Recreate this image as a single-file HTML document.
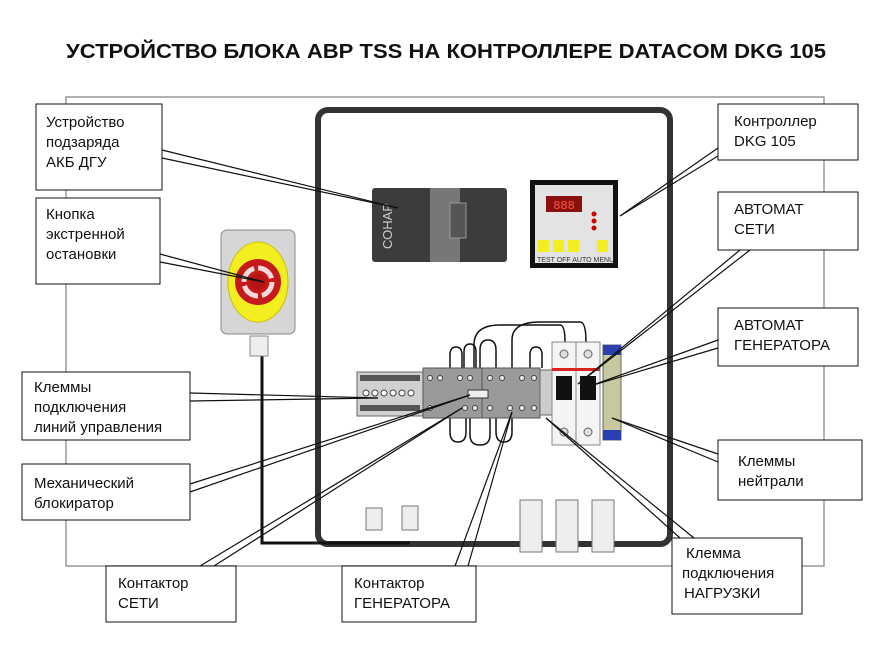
<!DOCTYPE html>
<html><head><meta charset="utf-8"><style>
body{margin:0;background:#fff;}
svg{display:block;font-family:"Liberation Sans",sans-serif;}
</style></head><body>
<svg width="890" height="652" viewBox="0 0 890 652" xmlns="http://www.w3.org/2000/svg">
<rect width="890" height="652" fill="#fff"/>
<text x="66" y="58" font-size="20" font-weight="bold" fill="#111" textLength="760" lengthAdjust="spacingAndGlyphs">УСТРОЙСТВО БЛОКА АВР TSS НА КОНТРОЛЛЕРЕ DATACOM DKG 105</text>
<!-- panel -->
<rect x="66" y="97" width="758" height="469" fill="none" stroke="#999" stroke-width="1.5"/>
<rect x="318" y="110" width="352" height="434" rx="10" fill="none" stroke="#333" stroke-width="6"/>
<!-- emergency wire -->
<path d="M262 355 V543 H410" fill="none" stroke="#111" stroke-width="3"/>
<!-- e-stop -->
<rect x="221" y="230" width="74" height="104" rx="6" fill="#d6d6d6" stroke="#888"/>
<ellipse cx="258" cy="282" rx="30" ry="40" fill="#f2ee20" stroke="#c9c000"/>
<circle cx="258" cy="282" r="23" fill="#c61a1a"/>
<circle cx="258" cy="282" r="14" fill="none" stroke="#f4dada" stroke-width="5" stroke-dasharray="18 4"/>
<circle cx="258" cy="282" r="8" fill="#b51414"/>
<rect x="250" y="336" width="18" height="20" fill="#eee" stroke="#888"/>
<!-- charger -->
<rect x="372" y="188" width="135" height="74" rx="3" fill="#3c3c3c"/>
<rect x="430" y="188" width="30" height="74" fill="#777"/>
<rect x="450" y="203" width="16" height="35" fill="#555" stroke="#999"/>
<text x="392" y="226" font-size="13" fill="#ccc" transform="rotate(-90 392 226)" text-anchor="middle">СОНАР</text>
<!-- controller -->
<rect x="530" y="180" width="88" height="88" fill="#111"/>
<rect x="535" y="185" width="78" height="78" fill="#e3e3e3"/>
<rect x="546" y="196" width="36" height="16" fill="#8a1010"/>
<text x="564" y="209" font-size="12" fill="#ff5a3a" text-anchor="middle" font-family="Liberation Mono,monospace">888</text>
<rect x="538" y="240" width="11" height="12" fill="#f2ee20"/><rect x="553" y="240" width="11" height="12" fill="#f2ee20"/><rect x="568" y="240" width="11" height="12" fill="#f2ee20"/><rect x="597" y="240" width="11" height="12" fill="#f2ee20"/>
<text x="537" y="262" font-size="7" fill="#333">TEST OFF AUTO   MENU</text>
<circle cx="594" cy="214" r="2.5" fill="#c00"/><circle cx="594" cy="221" r="2.5" fill="#c00"/><circle cx="594" cy="228" r="2.5" fill="#c00"/>
<!-- wires loops -->
<g fill="none" stroke="#111" stroke-width="1.5">
<path d="M450 370 V355 Q450 347 456 347 Q462 347 462 355 V370"/>
<path d="M464 370 V352 Q464 344 470 344 Q476 344 476 352 V370"/>
<path d="M480 370 V350 Q480 340 488 340 Q496 340 496 350 V370"/>
<path d="M474 368 V345 Q474 325 500 325 H560 Q565 325 565 342"/>
<path d="M512 368 V340 Q512 322 540 322 H580 Q586 322 586 342"/>
<path d="M450 418 V432 Q450 442 458 442 Q466 442 466 432 V418"/>
<path d="M470 418 V435 Q470 445 480 445 Q490 445 490 435 V418"/>
<path d="M496 418 V432 Q496 442 504 442 Q512 442 512 432 V418"/>
<path d="M530 368 V355 Q530 347 536 347 Q542 347 542 355 V368"/>
</g>
<!-- terminal block -->
<rect x="357" y="372" width="66" height="44" fill="#d0d0d0" stroke="#666"/>
<g fill="#555"><rect x="360" y="375" width="60" height="6"/><rect x="360" y="405" width="60" height="6"/></g>
<g fill="#fff" stroke="#444"><circle cx="366" cy="393" r="3"/><circle cx="375" cy="393" r="3"/><circle cx="384" cy="393" r="3"/><circle cx="393" cy="393" r="3"/><circle cx="402" cy="393" r="3"/><circle cx="411" cy="393" r="3"/></g>
<!-- contactors -->
<rect x="423" y="368" width="117" height="50" fill="#9a9a9a" stroke="#555"/>
<line x1="482" y1="368" x2="482" y2="418" stroke="#555"/>
<rect x="468" y="390" width="20" height="8" fill="#eee" stroke="#333"/>
<g fill="#eee" stroke="#444"><circle cx="430" cy="378" r="2.5"/><circle cx="440" cy="378" r="2.5"/><circle cx="460" cy="378" r="2.5"/><circle cx="470" cy="378" r="2.5"/><circle cx="490" cy="378" r="2.5"/><circle cx="502" cy="378" r="2.5"/><circle cx="522" cy="378" r="2.5"/><circle cx="534" cy="378" r="2.5"/>
<circle cx="430" cy="408" r="2.5"/><circle cx="465" cy="408" r="2.5"/><circle cx="475" cy="408" r="2.5"/><circle cx="490" cy="408" r="2.5"/><circle cx="510" cy="408" r="2.5"/><circle cx="522" cy="408" r="2.5"/><circle cx="534" cy="408" r="2.5"/></g>
<rect x="540" y="370" width="12" height="45" fill="#ccc" stroke="#666"/>
<!-- breakers -->
<rect x="552" y="342" width="24" height="103" fill="#f4f4f4" stroke="#888"/>
<rect x="576" y="342" width="24" height="103" fill="#f4f4f4" stroke="#888"/>
<rect x="552" y="368" width="48" height="3" fill="#d22"/>
<rect x="556" y="376" width="16" height="24" fill="#111"/>
<rect x="580" y="376" width="16" height="24" fill="#111"/>
<circle cx="564" cy="354" r="4" fill="#ddd" stroke="#666"/><circle cx="588" cy="354" r="4" fill="#ddd" stroke="#666"/>
<circle cx="564" cy="432" r="4" fill="#ddd" stroke="#666"/><circle cx="588" cy="432" r="4" fill="#ddd" stroke="#666"/>
<!-- neutral bar -->
<rect x="603" y="345" width="18" height="95" fill="#c8c8a0" stroke="#666"/>
<rect x="603" y="345" width="18" height="10" fill="#2a3fb0"/><rect x="603" y="430" width="18" height="10" fill="#2a3fb0"/>
<!-- bottom glands -->
<g fill="#eee" stroke="#777">
<rect x="366" y="508" width="16" height="22"/><rect x="402" y="506" width="16" height="24"/>
<rect x="520" y="500" width="22" height="52"/><rect x="556" y="500" width="22" height="52"/><rect x="592" y="500" width="22" height="52"/>
</g>
<!-- leader lines -->
<g stroke="#111" stroke-width="1.2">
<line x1="162" y1="150" x2="398" y2="208"/><line x1="162" y1="158" x2="398" y2="208"/>
<line x1="160" y1="254" x2="264" y2="282"/><line x1="160" y1="262" x2="264" y2="282"/>
<line x1="718" y1="148" x2="620" y2="216"/><line x1="718" y1="156" x2="620" y2="216"/>
<line x1="740" y1="250" x2="578" y2="384"/><line x1="750" y1="250" x2="578" y2="384"/>
<line x1="718" y1="340" x2="590" y2="386"/><line x1="718" y1="348" x2="590" y2="386"/>
<line x1="718" y1="454" x2="612" y2="418"/><line x1="718" y1="462" x2="612" y2="418"/>
<line x1="190" y1="393" x2="378" y2="398"/><line x1="190" y1="401" x2="378" y2="398"/>
<line x1="190" y1="484" x2="470" y2="395"/><line x1="190" y1="492" x2="470" y2="395"/>
<line x1="200" y1="566" x2="462" y2="408"/><line x1="214" y1="566" x2="462" y2="408"/>
<line x1="455" y1="566" x2="512" y2="412"/><line x1="468" y1="566" x2="512" y2="412"/>
<line x1="680" y1="538" x2="546" y2="418"/><line x1="694" y1="538" x2="546" y2="418"/>
</g>
<!-- label boxes -->
<g fill="#fff" stroke="#111" stroke-width="1">
<rect x="36" y="104" width="126" height="86"/>
<rect x="36" y="198" width="124" height="86"/>
<rect x="718" y="104" width="140" height="56"/>
<rect x="718" y="192" width="140" height="58"/>
<rect x="718" y="308" width="140" height="58"/>
<rect x="718" y="440" width="144" height="60"/>
<rect x="22" y="372" width="168" height="68"/>
<rect x="22" y="464" width="168" height="56"/>
<rect x="106" y="566" width="130" height="56"/>
<rect x="342" y="566" width="134" height="56"/>
<rect x="672" y="538" width="130" height="76"/>
</g>
<g font-size="15" fill="#111">
<text x="46" y="127">Устройство</text><text x="46" y="147">подзаряда</text><text x="46" y="167">АКБ ДГУ</text>
<text x="46" y="219">Кнопка</text><text x="46" y="239">экстренной</text><text x="46" y="259">остановки</text>
<text x="734" y="126">Контроллер</text><text x="734" y="146">DKG 105</text>
<text x="734" y="214">АВТОМАТ</text><text x="734" y="234">СЕТИ</text>
<text x="734" y="330">АВТОМАТ</text><text x="734" y="350">ГЕНЕРАТОРА</text>
<text x="738" y="466">Клеммы</text><text x="738" y="486">нейтрали</text>
<text x="34" y="392">Клеммы</text><text x="34" y="412">подключения</text><text x="34" y="432">линий управления</text>
<text x="34" y="488">Механический</text><text x="34" y="508">блокиратор</text>
<text x="118" y="588">Контактор</text><text x="118" y="608">СЕТИ</text>
<text x="354" y="588">Контактор</text><text x="354" y="608">ГЕНЕРАТОРА</text>
<text x="686" y="558">Клемма</text><text x="682" y="578">подключения</text><text x="684" y="598">НАГРУЗКИ</text>
</g>
</svg>
</body></html>
